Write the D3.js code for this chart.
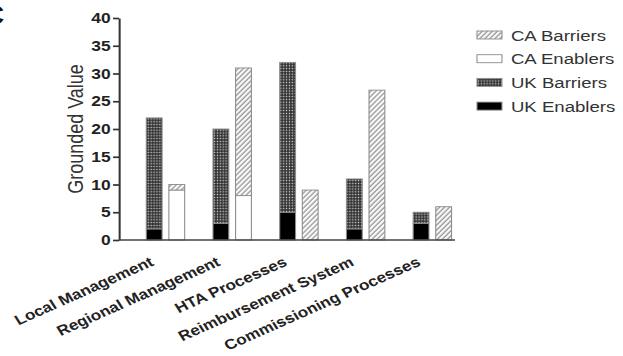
<!DOCTYPE html>
<html>
<head>
<meta charset="utf-8">
<script src="https://cdn.jsdelivr.net/npm/d3@7"></script>
<style>
  body { margin: 0; background: #fff; }
  text { font-family: Arial, "Liberation Sans", sans-serif; }
</style>
</head>
<body>
<div id="chart-area"></div>
<script>
/*
*    grounded value chart
*/
var categories = ["Local Management", "Regional Management", "HTA Processes", "Reimbursement System", "Commissioning Processes"];
var ukEnablers = [2, 3, 5, 2, 3];
var ukBarriers = [20, 17, 27, 9, 2];
var caEnablers = [9, 8, 0, 0, 0];
var caBarriers = [1, 23, 9, 27, 6];
var yTicks = [0, 5, 10, 15, 20, 25, 30, 35, 40];
var legendLabels = ["CA Barriers", "CA Enablers", "UK Barriers", "UK Enablers"];

// the picture is stretched sideways, so draw in a narrower box and let the svg stretch it
var stretch = 1.2;
var W = 623, H = 356;

var svg = d3.select("#chart-area")
.append("svg")
    .attr("width", W)
    .attr("height", H)
    .attr("viewBox", "0 0 " + (W / stretch) + " " + H)
    .attr("preserveAspectRatio", "none");

var defs = svg.append("defs");

var hatch = defs.append("pattern")
    .attr("id", "hatch")
    .attr("patternUnits", "userSpaceOnUse")
    .attr("width", 3.2)
    .attr("height", 3.2)
    .attr("patternTransform", "rotate(40)");
hatch.append("rect").attr("width", 3.2).attr("height", 3.2).attr("fill", "#fff");
hatch.append("line")
    .attr("x1", 1).attr("y1", 0).attr("x2", 1).attr("y2", 3.2)
    .attr("stroke", "#9a9a9a").attr("stroke-width", 1.3);

var checker = defs.append("pattern")
    .attr("id", "checker")
    .attr("patternUnits", "userSpaceOnUse")
    .attr("width", 2.4)
    .attr("height", 2.8);
checker.append("rect").attr("width", 2.4).attr("height", 2.8).attr("fill", "#2a2a2a");
checker.append("rect").attr("x", 0.6).attr("y", 0.7).attr("width", 1.2).attr("height", 1.4).attr("fill", "#d8d8d8");

var fills = {
    "CA Barriers": "url(#hatch)",
    "CA Enablers": "#fff",
    "UK Barriers": "url(#checker)",
    "UK Enablers": "#000"
};

var x = d3.scaleBand()
    .domain(categories)
    .range([110.1, 388.1]);

var sub = d3.scaleBand()
    .domain(["UK", "CA"])
    .range([x.bandwidth() / 2 - 16, x.bandwidth() / 2 + 16])
    .paddingInner(0.3);

var y = d3.scaleLinear()
    .domain([0, 40])
    .range([240, 18]);

// stacked rows per country
var rows = categories.map((c, i) => {
    return {
        cat: c,
        ukE: ukEnablers[i], ukB: ukBarriers[i],
        caE: caEnablers[i], caB: caBarriers[i]
    };
});

var groups = [
    { country: "UK", keys: ["ukE", "ukB"], names: ["UK Enablers", "UK Barriers"] },
    { country: "CA", keys: ["caE", "caB"], names: ["CA Enablers", "CA Barriers"] }
];

groups.forEach((grp) => {
    var series = d3.stack().keys(grp.keys)(rows);
    series.forEach((s, k) => {
        svg.append("g")
            .selectAll("rect")
            .data(s.filter((d) => { return d[1] > d[0]; }))
            .enter()
            .append("rect")
                .attr("x", (d) => { return x(d.data.cat) + sub(grp.country); })
                .attr("y", (d) => { return y(d[1]); })
                .attr("width", sub.bandwidth())
                .attr("height", (d) => { return y(d[0]) - y(d[1]); })
                .attr("fill", fills[grp.names[k]])
                .attr("stroke", "#8c8c8c")
                .attr("stroke-width", 0.9);
    });
});

// y axis
var yAxisGroup = svg.append("g")
    .attr("transform", "translate(99.2, 0)")
    .call(d3.axisLeft(y).tickValues(yTicks).tickSize(5).tickPadding(2).tickSizeOuter(0));

yAxisGroup.select(".domain").attr("stroke", "#333").attr("stroke-width", 1.7);
yAxisGroup.selectAll(".tick line").attr("stroke", "#333").attr("stroke-width", 1.7);
yAxisGroup.selectAll(".tick text")
    .attr("font-size", "14.5px")
    .attr("font-weight", "bold")
    .attr("fill", "#222");

// x axis line
svg.append("line")
    .attr("x1", 99.2)
    .attr("x2", 379.2)
    .attr("y1", y(0))
    .attr("y2", y(0))
    .attr("stroke", "#444")
    .attr("stroke-width", 1.7);

// category labels
svg.append("g")
    .selectAll("text")
    .data(categories)
    .enter()
    .append("text")
        .attr("transform", (d) => {
            return "translate(" + (x(d) + x.bandwidth() / 2 - 9) + ", 265) rotate(-28)";
        })
        .attr("text-anchor", "end")
        .attr("font-size", "14.3px")
        .attr("font-weight", "bold")
        .attr("fill", "#222")
        .text((d) => { return d; });

// y label
svg.append("text")
    .attr("x", -129)
    .attr("y", 69)
    .attr("transform", "rotate(-90)")
    .attr("text-anchor", "middle")
    .attr("font-size", "18px")
    .attr("fill", "#333")
    .text("Grounded Value");

// clipped panel letter
svg.append("text")
    .attr("x", -18)
    .attr("y", 25)
    .attr("font-size", "30px")
    .attr("font-weight", "bold")
    .attr("fill", "#111")
    .text("C");

// legend
var legend = svg.append("g")
    .selectAll("g")
    .data(legendLabels)
    .enter()
    .append("g")
        .attr("transform", (d, i) => { return "translate(397.5, " + (35 + i * 23.7) + ")"; });

legend.append("rect")
    .attr("x", 0)
    .attr("y", -4)
    .attr("width", 20.8)
    .attr("height", 8)
    .attr("fill", (d) => { return fills[d]; })
    .attr("stroke", "#8c8c8c")
    .attr("stroke-width", 0.9);

legend.append("text")
    .attr("x", 28.3)
    .attr("y", 5.5)
    .attr("font-size", "15.5px")
    .attr("fill", "#333")
    .text((d) => { return d; });
</script>
</body>
</html>
